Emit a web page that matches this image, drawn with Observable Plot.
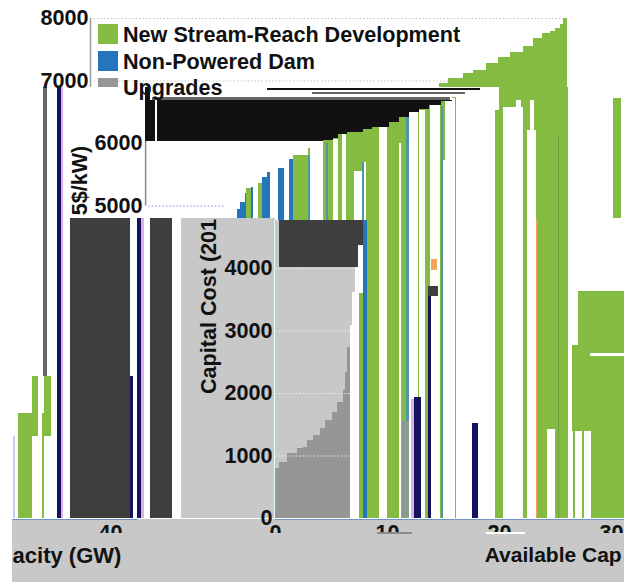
<!DOCTYPE html>
<html><head><meta charset="utf-8">
<script src="https://cdn.jsdelivr.net/npm/d3@7"></script>
<script src="https://cdn.jsdelivr.net/npm/@observablehq/plot@0.6"></script>
<style>html,body{margin:0;padding:0;background:#fff}svg{display:block}</style>
</head><body><div id="c"></div><script>
// Supply curve: start of each block (GW), cost, resource class
const gwStart=[0,0.4,1.07,1.96,2.5,2.86,3.4,4,4.46,5.1,5.5,6.07,6.25,6.43,6.7,6.9,7.14,7.4,7.83,7.95,8.2,8.5,8.93,9,9.46,9.64,10.1,10.45,10.9,11.16,11.9,12.4,12.86,13.2,14.55,15.9,16.8,17.2,18,19.5,20.3,21.8,22.7,23.6,24.5,25.4,26.4,27.4,28.5,29.5,30.36,31.2,32,33.3,34.2,35.4,36.4,37.5,38.7,39.55,40.4,41.1,41.5,42,42.2];
const gwEnd=42.6;
const costs=[800,900,1040,1120,1136,1248,1328,1440,1568,1696,1856,2048,2336,2736,3088,3616,4016,4368,4768,4800,4950,5050,5200,5280,5300,5330,5360,5450,5536,5568,5600,5648,5744,5808,5920,6048,6080,6144,6176,6220,6256,6336,6416,6496,6550,6608,6670,6736,6800,6860,6896,6960,7040,7120,7168,7280,7376,7456,7552,7680,7760,7792,7840,7904,8000];
const npdStarts=[7.83,7.95,8.2,8.5,8.93,9.46,10.45,10.9,11.9,12.86];
const sources=gwStart.map(g=>g<7.83?"U":npdStarts.includes(g)?"N":"S");
const bars=gwStart.map((g,i)=>({x1:g,x2:i+1<gwStart.length?gwStart[i+1]:gwEnd,cost:costs[i],src:sources[i]}));

const legendLabels=["New Stream-Reach Development","Non-Powered Dam","Upgrades"];
const legendCosts=[7728,7296,6880];
const legendSwatches=[[0.7,2.5,7904,7584],[0.7,2.5,7472,7152],[0.7,2.5,7040,6896]];
const green="#84bc41",blue="#2475bb",gray="#969696",bg="#c8c8c8",dark="#3e3e3e",navy="#14145e";

// column blocks: [gw1, gw2, cost1, cost2]
const whiteGaps=[[14.55,15,0,5360],[16.07,16.8,0,5568],[17.3,17.77,0,5648],[19.64,20.8,0,5920],[21.7,22.1,0,6064],[22.5,22.9,0,6144],[23.6,24.3,0,5552],[24.5,24.6,0,5696],[25.8,26.5,0,6272],[27.6,27.8,0,6000],[28.5,29.3,0,6512],[29.4,29.9,0,6528],[30.4,31.25,0,6608],[31.5,31.7,0,5728],[31.7,32.6,0,6720],[32.7,33.4,0,6740],[33.4,34.3,0,6810],[34.3,36.2,0,6896],[36.2,36.5,6528,6896],[36.9,38.7,0,6576],[38,38.5,6500,6688],[39,39.8,0,6208],[39.3,39.6,6200,6688],[40.8,41.5,0,1424]];
const greenBlocks=[[43.6,47.7,1392,3632],[44.7,47.7,0,1392],[43,43.6,1392,2768],[46.7,47.4,4800,6720],[43.1,43.3,0,1392],[43.9,44.1,0,1392],[-6.43,-5.18,0,1680],[-5.18,-4.64,1312,2272],[-4.1,-3.48,1312,2272],[-4.3,-4.1,0,1680]];
const whiteNotch=[[44.6,47.7,2592,2640]];
const darkBlocks=[[-1.79,3.57,0,4800],[5.36,7.32,0,4800],[30.2,31.07,3552,3712]];
const navyBlocks=[[-2.95,-2.6,0,6896],[3.57,3.84,0,2272],[4.2,4.55,0,4800],[28.9,29.55,0,1936],[30.2,30.45,0,3552],[34.1,34.65,0,1520]];
const pinkBlocks=[[-2.6,-2.4,0,6896],[4.55,4.82,0,4800],[28.7,28.9,0,1900]];
const grayLines=[[-4.2,-3.85,2272,6896],[19.8,33.5,6784,6816],[5.5,32.1,6688,6736]];
const blackBlocks=[[4.9,5.4,6032,6896],[5.4,5.8,6032,6688],[15.8,34.8,6848,6888]];
const orangeBlocks=[[30.45,30.98,3968,4144],[39.8,39.9,0,4784]];
const tealStripes=[[19.46,19.64,0,5808],[21.1,21.25,0,6000],[24.3,24.5,0,5700],[28.25,28.5,0,6450],[31.3,31.5,0,6600]];
const greenLine=[[41.8,41.9,0,6128]];
const lowerGreen=[[24,24.37,0,3600]];
const patchGray=[[27.86,28.5,0,1552]];
const lavender=[[-6.9,-6.7,0,1312]];
const lightBack=[[8.125,16.5,0,4800]];
const axisPale=[[16.4,16.55,0,4768]];
const floorBand=[[-6.96,47.7,-1024,-16]];
const tickCover=[[-6.96,47.7,-420,-244]];
const floorGray=[[25.6,28.75,-256,-224]];
const floorWhite=[[35.4,38.8,-256,-224]];
const axisLines=[[-6.96,4.2,-24,-8],[16.5,47.7,-24,-8]];

const topCut=6896, eTop=4768, darkFloor=4016, blackTop=6688, blackFloor=6032;
const dxD=55, dxE=185;

const rects=(list,fill)=>Plot.rect(list,{x1:d=>d[0],x2:d=>d[1],y1:d=>d[2],y2:d=>d[3],fill,shapeRendering:"crispEdges"});
const T={fontFamily:"Liberation Sans",fontWeight:"bold",fill:"#111",fontSize:21.6};

const bandBars=(src,fill,dx,maxX)=>Plot.rect(bars.filter(d=>d.src===src&&d.x1<maxX),{x1:"x1",x2:d=>Math.min(d.x2,maxX),y1:0,y2:d=>Math.min(d.cost,topCut),fill,dx,shapeRendering:"crispEdges"});
const eBars=bars.filter(d=>d.x1<8.2);
const grid=(vals,x1,x2,stroke)=>Plot.ruleY(vals,{y:d=>d,x1,x2,stroke,strokeDasharray:"1.5,2",strokeWidth:1});

const chart=Plot.plot({
  width:624,height:582,margin:0,
  style:{background:"white"},
  x:{domain:[-8.036,47.68],range:[0,624],axis:null},
  y:{domain:[-1024,8288],range:[582,0],axis:null},
  marks:[
    grid([8000,7000],0,42.5,"#c4c4c4"),
    Plot.ruleX([0],{y1:topCut,y2:8000,stroke:"#9a9a9a",strokeWidth:1.5}),
    // top band of the curve
    Plot.rect(bars.filter(d=>d.cost>topCut),{x1:"x1",x2:"x2",y1:topCut,y2:"cost",fill:green,shapeRendering:"crispEdges"}),
    // middle band, shifted right
    bandBars("S",green,dxD,37.8),
    bandBars("N",blue,dxD,37.8),
    grid([5000],5.2,12,"#8a8ad8"),
    rects(tealStripes,"#4f95a8"),
    rects(whiteGaps,"white"),
    rects(greenBlocks,green),
    rects(whiteNotch,"white"),
    rects(greenLine,"#6f9e3a"),
    rects(patchGray,"#8a9a90"),
    rects(lavender,"#c9c9f5"),
    // black block above the curve
    Plot.rect(bars.filter(d=>d.cost<blackTop&&d.x1>=1),{x1:"x1",x2:"x2",y1:d=>Math.max(d.cost,blackFloor),y2:blackTop,fill:"#111",dx:dxD,shapeRendering:"crispEdges"}),
    rects(blackBlocks,"#111"),
    rects(grayLines,"#666"),
    Plot.ruleX([4.92],{y1:5000,y2:6032,stroke:"#8a8a8a",strokeWidth:1.5}),
    // lower band, shifted further right
    rects(lightBack,bg),
    Plot.rect(eBars.filter(d=>d.cost<eTop),{x1:"x1",x2:"x2",y1:"cost",y2:eTop,fill:bg,dx:dxE,shapeRendering:"crispEdges"}),
    Plot.rect(eBars.filter(d=>d.cost<eTop&&d.x1>=0.4),{x1:"x1",x2:"x2",y1:d=>Math.max(d.cost,darkFloor),y2:eTop,fill:dark,dx:dxE,shapeRendering:"crispEdges"}),
    Plot.rect(eBars.filter(d=>d.src==="U"&&d.x1<6.7),{x1:"x1",x2:"x2",y1:0,y2:"cost",fill:gray,dx:dxE,shapeRendering:"crispEdges"}),
    Plot.rect(eBars.filter(d=>d.src==="U"&&d.x1>=6.7),{x1:"x1",x2:"x2",y1:0,y2:"cost",fill:"white",dx:dxE,shapeRendering:"crispEdges"}),
    rects(lowerGreen,green),
    Plot.rect(eBars.filter(d=>d.src==="N"),{x1:"x1",x2:"x2",y1:0,y2:d=>Math.min(d.cost,eTop),fill:blue,dx:dxE,shapeRendering:"crispEdges"}),
    grid([4000,3000,2000,1000],16.5,23.5,"#eeeeee"),
    rects(axisPale,"#e6fafa"),
    rects(darkBlocks,dark),
    rects(navyBlocks,navy),
    rects(pinkBlocks,"#e0b0e0"),
    rects(orangeBlocks,"#f4a460"),
    // floor strip and axis
    rects(floorBand,bg),
    rects(axisLines,"#6f93c0"),
    Plot.text([0,10,20,30],{x:d=>d,y:-340,dx:dxE,text:d=>String(d),...T,lineAnchor:"bottom"}),
    Plot.text([40],{x:d=>d,y:-340,dx:-428,text:d=>String(d),...T,lineAnchor:"bottom"}),
    rects(tickCover,bg),
    rects(floorGray,"#8a8a8a"),
    rects(floorWhite,"white"),
    // y tick labels
    Plot.text([8000,7000],{x:0,y:d=>d,dx:-2,text:d=>String(d),...T,textAnchor:"end"}),
    Plot.text([6000,5000],{x:0,y:d=>d,dx:dxD-3,text:d=>String(d),...T,textAnchor:"end"}),
    Plot.text([4000,3000,2000,1000,0],{x:0,y:d=>d,dx:dxE-3,text:d=>String(d),...T,textAnchor:"end"}),
    // legend
    rects(legendSwatches.slice(0,1),green),
    rects(legendSwatches.slice(1,2),blue),
    rects(legendSwatches.slice(2,3),gray),
    Plot.text(legendLabels,{x:2.9,y:(d,i)=>legendCosts[i],text:d=>d,...T,textAnchor:"start"}),
    // axis titles
    Plot.text(["Capital Cost (201"],{x:10.6,y:3392,text:d=>d,...T,rotate:-90}),
    Plot.text(["5$/kW)"],{x:-0.9,y:5408,text:d=>d,...T,rotate:-90}),
    Plot.text(["Available Cap"],{x:35.2,y:-592,text:d=>d,...T,fontSize:21,textAnchor:"start"}),
    Plot.text(["acity (GW)"],{x:-6.96,y:-592,text:d=>d,...T,fontSize:22,textAnchor:"start"})
  ]
});
document.getElementById("c").appendChild(chart);
</script></body></html>
